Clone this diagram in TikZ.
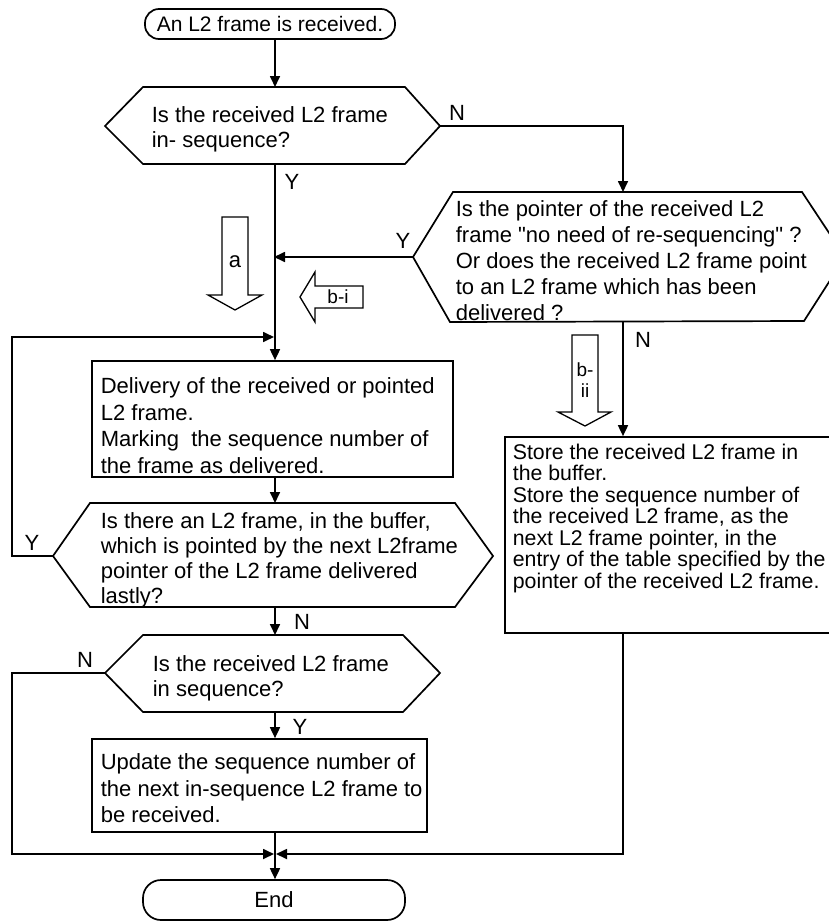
\documentclass[tikz,border=0pt]{standalone}
\usepackage{fontspec}
\setmainfont{Liberation Sans}[Ligatures=TeXOff]
\usetikzlibrary{arrows.meta}
\begin{document}
\begin{tikzpicture}[x=1pt,y=-1pt,
  line width=1.7pt, line join=miter,
  flow/.style={-{Triangle[length=11pt,width=10pt]}},
  procbox/.style={draw, rectangle, inner sep=0pt},
  termbox/.style={draw, rectangle, inner sep=0pt},
  body/.style={anchor=north west, inner sep=0pt, align=left,
    font=\fontsize{22}{25}\selectfont},
  lbl/.style={inner sep=0pt, font=\fontsize{22}{24}\selectfont},
  hollow/.style={draw, fill=white, line width=1.3pt},
]
\clip (0,0) rectangle (829,921);

% ---- terminals and process boxes
\node[termbox, rounded corners=14pt, minimum width=250pt, minimum height=30pt,
      font=\fontsize{21}{24}\selectfont] (start) at (270,24) {An L2 frame is received.};
\node[termbox, rounded corners=18pt, minimum width=262pt, minimum height=40pt,
      font=\fontsize{22}{24}\selectfont] (finish) at (274,900) {End};

\node[procbox, minimum width=361pt, minimum height=116pt] (dl) at (272.5,419) {};
\node[procbox, minimum width=335pt, minimum height=93pt] (up) at (259.5,785.5) {};
\node[procbox, minimum width=340pt, minimum height=196pt] (st) at (675,535) {};

% ---- decision corners
\coordinate (d1w) at (105,126); \coordinate (d1e) at (440,126);
\coordinate (d1n) at (275,87);  \coordinate (d1s) at (275,164);
\coordinate (d2w) at (413,257); \coordinate (d2e) at (845,257);
\coordinate (d2n) at (623,192); \coordinate (d2s) at (623,322);
\coordinate (d3w) at (53,556);  \coordinate (d3e) at (493,556);
\coordinate (d3n) at (275,503); \coordinate (d3s) at (275,607);
\coordinate (d4w) at (105,673); \coordinate (d4e) at (440,673);
\coordinate (d4n) at (275,635); \coordinate (d4s) at (275,712);

\draw (d1w) -- (143,87) -- (405,87) -- (d1e) -- (405,164) -- (143,164) -- cycle;
\draw (d2w) -- (453,192) -- (802,192) -- (d2e) -- (804,321) -- (450,322) -- cycle;
\draw (d3w) -- (90,503) -- (455,503) -- (d3e) -- (455,607) -- (90,607) -- cycle;
\draw (d4w) -- (143,635) -- (403,635) -- (d4e) -- (403,712) -- (143,712) -- cycle;

% ---- texts
\node[body] (d1t) at (151,106) {Is the received L2 frame\\in- sequence?};
\node[body, font=\fontsize{22}{26}\selectfont] (d2t) at (455,200)
  {Is the pointer of the received L2\\frame "no need of re-sequencing" ?\\Or does the received L2 frame point\\to an L2 frame which has been\\delivered ?};
\node[body, font=\fontsize{22}{26.5}\selectfont] (dlt) at (100,377)
  {Delivery of the received or pointed\\L2 frame.\\Marking\ \ the sequence number of\\the frame as delivered.};
\node[body] (d3t) at (100,512)
  {Is there an L2 frame, in the buffer,\\which is pointed by the next L2frame\\pointer of the L2 frame delivered\\lastly?};
\node[body] (d4t) at (152,655) {Is the received L2 frame\\in sequence?};
\node[body, font=\fontsize{22}{26.5}\selectfont] (upt) at (100,753)
  {Update the sequence number of\\the next in-sequence L2 frame to\\be received.};
\node[body, font=\fontsize{21.3}{21.5}\selectfont] (stt) at (512,443)
  {Store the received L2 frame in\\the buffer.\\Store the sequence number of\\the received L2 frame, as the\\next L2 frame pointer, in the\\entry of the table specified by the\\pointer of the received L2 frame.};

% ---- branch labels
\node[lbl] (n1) at (457,113) {N};
\node[lbl] (y1) at (292,182) {Y};
\node[lbl] (y2) at (403,241) {Y};
\node[lbl] (n2) at (643,340) {N};
\node[lbl] (y3) at (32,543) {Y};
\node[lbl] (n3) at (302,622) {N};
\node[lbl] (n4) at (85,660) {N};
\node[lbl] (y4) at (300,727) {Y};

% ---- junctions
\coordinate (loopin) at (274,337);
\coordinate (mergel) at (274,854);
\coordinate (merger) at (276,854);

% ---- connectors
\draw[flow] (start.south -| d1n) -- (d1n);
\draw[flow] (d1e) -| (d2n);
\draw[flow] (d1s) -- (d1s |- dl.north);
\draw[flow] (d2w) -- ([xshift=-1pt]d2w -| d1s);
\draw[flow] (d2s) -- (d2s |- st.north);
\draw[flow] (d3w) -- (12,556) |- (loopin);
\draw[flow] (dl.south -| d1s) -- (d3n);
\draw[flow] (d3s) -- (d4n);
\draw[flow] (d4w) -- (12,673) |- (mergel);
\draw[flow] (d4s) -- (d4s |- up.north);
\draw[flow] (up.south -| d1s) -- (finish.north -| d1s);
\draw[flow] (st.south -| d2s) |- (merger);

% ---- hollow path markers
\draw[hollow] (222,217) -- (248,217) -- (248,295) -- (262,295) -- (235,310)
  -- (208,295) -- (222,295) -- cycle;
\node[lbl] (ma) at (235,262) {a};
\draw[hollow] (363,286) -- (315,286) -- (315,272) -- (300,297) -- (315,322)
  -- (315,308) -- (363,308) -- cycle;
\node[lbl, font=\fontsize{19}{20}\selectfont] (mbi) at (338,297) {b-i};
\draw[hollow] (572,335) -- (598,335) -- (598,412) -- (611,412) -- (585,426)
  -- (558,412) -- (572,412) -- cycle;
\node[lbl, align=center, font=\fontsize{19}{21}\selectfont] (mbii) at (585,380) {b-\\ii};
\end{tikzpicture}
\end{document}
